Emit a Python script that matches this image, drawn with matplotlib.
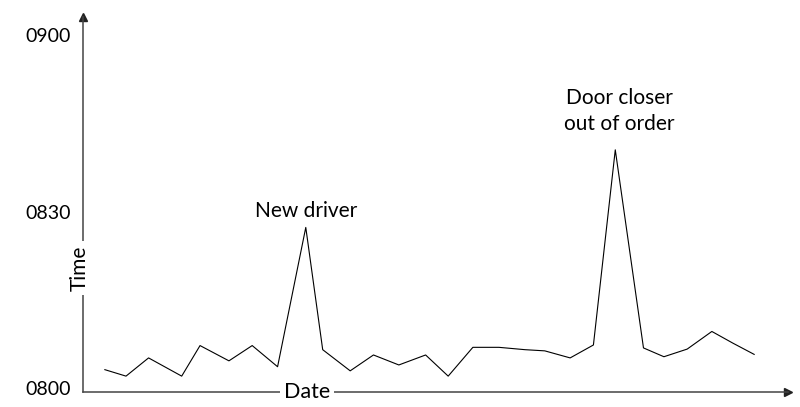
import matplotlib.pyplot as plt

plt.rcParams['font.family'] = ['Lato', 'DejaVu Sans']

# date position (arbitrary units along the axis) and minutes after 0800
days = [3.1, 6.1, 9.3, 14.0, 16.6, 20.7, 24.0, 27.6, 31.6, 34.0, 37.9, 41.2, 44.8, 48.6,
        51.8, 55.3, 59.0, 62.7, 65.5, 69.1, 72.4, 75.5, 79.5, 82.4, 85.7, 89.2, 92.2, 95.2]
minutes = [3.1, 2.0, 5.1, 2.0, 7.2, 4.6, 7.2, 3.6, 27.3, 6.5, 2.9, 5.6, 3.9, 5.6,
           2.0, 6.9, 6.9, 6.5, 6.3, 5.1, 7.3, 40.5, 6.8, 5.3, 6.6, 9.6, 7.6, 5.7]
ytick_vals = [0, 30, 60]
ytick_labels = ['0800', '0830', '0900']

fig = plt.figure(figsize=(8, 4.07), dpi=100)
ax = fig.add_axes([83/800, 15/407, 705/800, 375/407])
ax.plot(days, minutes, color='black', lw=0.8)

ax.set_xlim(0, 100)
ax.set_ylim(-0.7, 63.1)
for s in ['top', 'right']:
    ax.spines[s].set_visible(False)
for s in ['left', 'bottom']:
    ax.spines[s].set_color('#444444')
    ax.spines[s].set_linewidth(1.1)

# arrow heads
ax.plot(1, 0, marker='>', color='#222222', ms=6, transform=ax.transAxes, clip_on=False)
ax.plot(0, 1, marker='^', color='#222222', ms=6, transform=ax.transAxes, clip_on=False)

ax.set_xticks([])
ax.set_yticks(ytick_vals)
ax.set_yticklabels(ytick_labels, fontsize=14)
ax.tick_params(axis='y', length=0, pad=9)

ax.text(-0.004, 0.33, 'Time', rotation=90, ha='center', va='center', fontsize=15,
        transform=ax.transAxes, bbox=dict(facecolor='white', edgecolor='none', pad=3))
ax.text(0.318, 0, 'Date', ha='center', va='center', fontsize=15.5,
        transform=ax.transAxes, bbox=dict(facecolor='white', edgecolor='none', pad=3))

ax.annotate('New driver', xy=(days[8], minutes[8]), xytext=(0, 12),
            textcoords='offset points', ha='center', va='center', fontsize=15)
ax.annotate('Door closer\nout of order', xy=(days[21], minutes[21]), xytext=(3, 28),
            textcoords='offset points', ha='center', va='center', fontsize=15,
            linespacing=1.35)

plt.savefig('out.png', dpi=100)
